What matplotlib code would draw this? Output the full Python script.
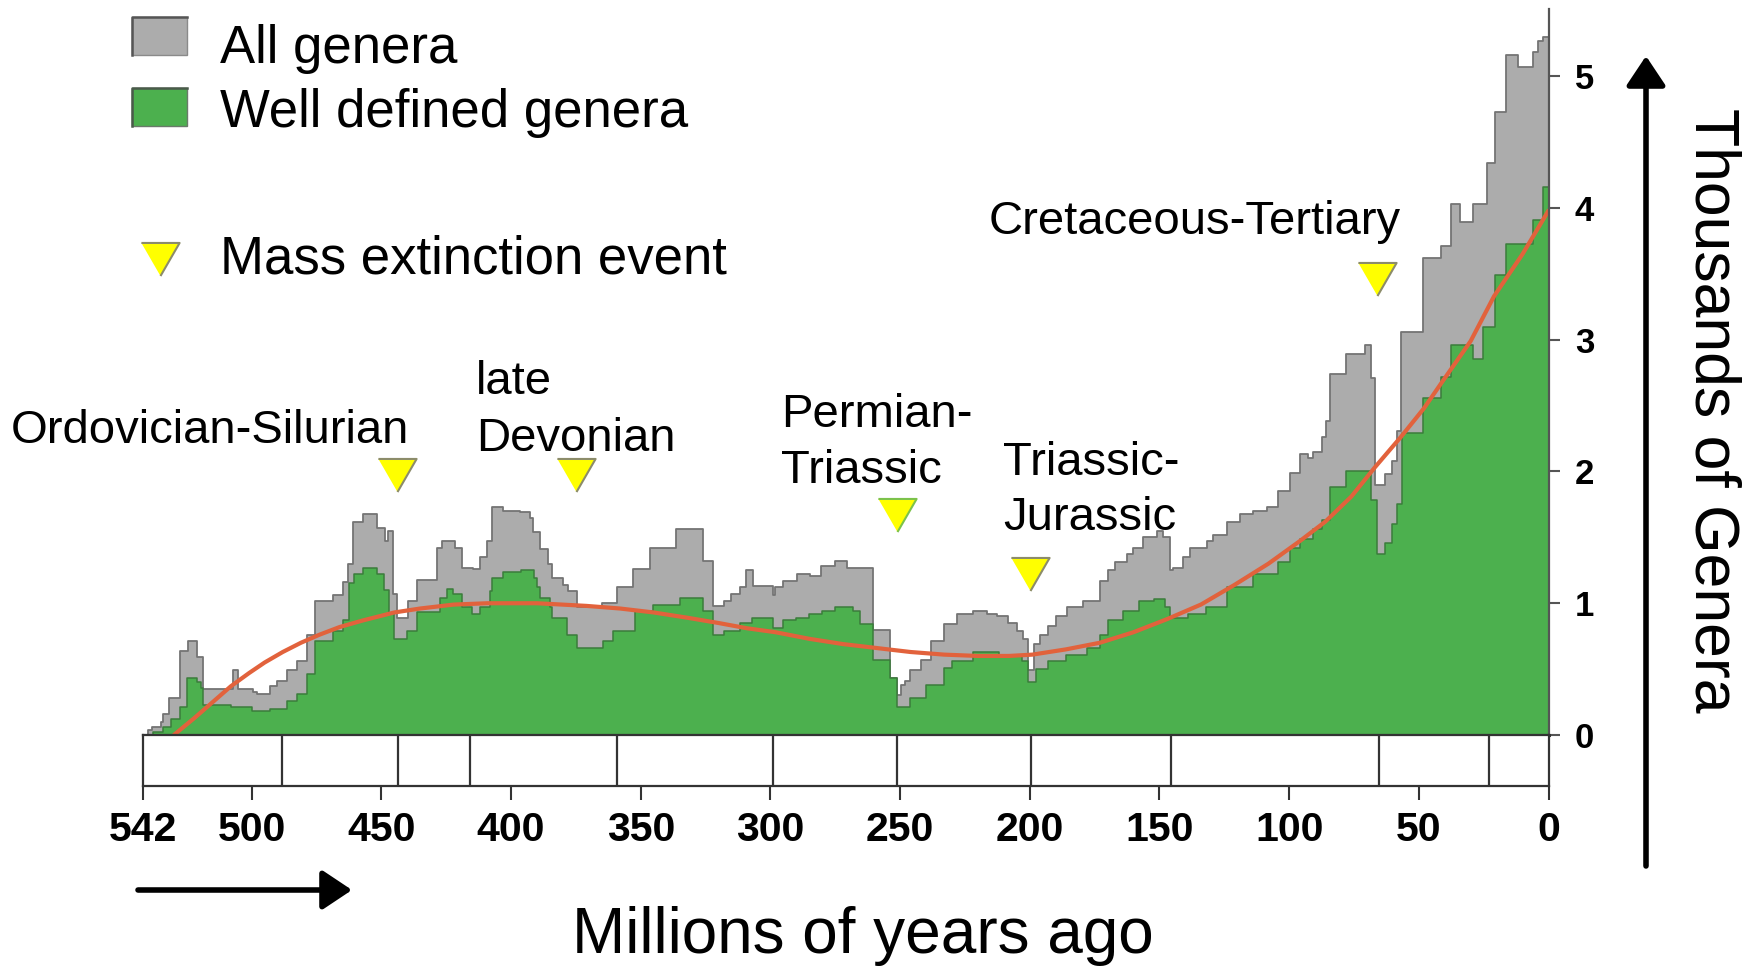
import matplotlib
matplotlib.use("Agg")
import matplotlib.pyplot as plt
from matplotlib.patches import Rectangle

plt.rcParams["font.family"] = ["Liberation Sans", "DejaVu Sans"]

# All genera (thousands), step values starting at each age (Ma)
GRAY_AGE = [542, 540, 538.5, 535, 534, 532, 527.6, 524.4, 521.2, 518.6, 507.1, 505.1, 499.4, 498,
            492.9, 490.3, 486.5, 482.6, 478.8, 475.6, 468.5, 464.7, 462.7, 460.8, 457, 451.8, 448.6,
            447.3, 445.4, 444.1, 439.6, 436.4, 428.7, 426.7, 421.6, 419, 414.5, 412, 409.4, 407.5,
            403, 396.6, 392.5, 391.4, 388.8, 385.6, 384.3, 379.8, 377.9, 374.7, 365.1, 359.3, 352.9,
            346.4, 336.2, 325.9, 322, 318, 315, 311.7, 309.4, 306.8, 298.9, 298.2, 295, 289.9, 284.7,
            280.3, 275.1, 270.6, 260.3, 253.9, 251.3, 249.5, 248, 246, 242, 238, 233, 228, 222,
            216.6, 212.8, 208.3, 205, 202.5, 200.5, 198.5, 196.1, 193, 189.7, 185.8, 179.4, 173,
            169.7, 167.2, 162.7, 160.1, 156.2, 151.1, 148.5, 146, 144.7, 140.8, 138.3, 131.8, 129.3,
            124.1, 119, 113.8, 108.7, 104.2, 99.7, 95.9, 92.7, 90.7, 87.5, 85.6, 84.1, 77.9, 70.8,
            68.3, 66.9, 63.1, 60.5, 58.6, 56.7, 48.3, 41.3, 37.4, 34.2, 29.1, 23.9, 20.7, 16.2, 11.7,
            5.9, 4.0, 2.1, 0]
GRAY_VAL = [0.00, 0.04, 0.06, 0.10, 0.16, 0.28, 0.64, 0.71, 0.59, 0.35, 0.49, 0.35, 0.33, 0.31,
            0.37, 0.41, 0.49, 0.56, 0.76, 1.02, 1.06, 1.16, 1.30, 1.62, 1.68, 1.57, 1.47,
            1.55, 1.07, 0.89, 1.02, 1.18, 1.42, 1.47, 1.42, 1.27, 1.26, 1.35, 1.47, 1.73,
            1.70, 1.69, 1.65, 1.54, 1.41, 1.30, 1.19, 1.14, 1.09, 0.97, 1.00, 1.12, 1.26,
            1.42, 1.56, 1.32, 0.98, 1.02, 1.07, 1.12, 1.25, 1.13, 1.06, 1.12, 1.17, 1.22, 1.21,
            1.28, 1.32, 1.27, 0.80, 0.43, 0.30, 0.38, 0.41, 0.49, 0.57, 0.71, 0.84, 0.92, 0.94,
            0.92, 0.90, 0.85, 0.79, 0.73, 0.49, 0.69, 0.76, 0.83, 0.90, 0.97, 1.02, 1.17,
            1.25, 1.31, 1.37, 1.42, 1.50, 1.55, 1.50, 1.25, 1.27, 1.35, 1.42, 1.47, 1.52,
            1.62, 1.68, 1.70, 1.73, 1.85, 1.99, 2.13, 2.10, 2.15, 2.26, 2.38, 2.74, 2.89, 2.96,
            2.71, 1.90, 1.98, 2.08, 2.31, 3.06, 3.62, 3.71, 4.03, 3.89, 4.03, 4.34, 4.73, 5.16, 5.07,
            5.18, 5.27, 5.30, 5.30]

# Well defined genera (thousands)
GREEN_AGE = [542, 538, 534, 531, 527.6, 525, 521.2, 519.5, 518.6, 508, 500, 493, 486.5, 482.6,
             478.8, 475.6, 468.5, 464.7, 462.5, 460.5, 457, 451.8, 449, 447, 445, 440, 436.4,
             427.4, 424.8, 422.3, 419, 415.2, 412, 408.1, 407.5, 403, 396, 391, 390, 388.8, 385,
             384.3, 378.6, 374.7, 364.4, 360.6, 352.2, 345.1, 334.9, 325.9, 322, 318, 311.7, 307,
             299, 295, 290, 285, 280, 275, 268, 265.5, 260.3, 253.9, 251.3, 246, 240, 233, 230,
             222, 212, 203, 200.5, 197.4, 193, 186, 178, 173, 169.7, 164, 158, 152, 148, 146,
             139, 132, 124, 114, 104.2, 99.7, 95.9, 90.7, 87.5, 84.1, 77.9, 68.3, 66.3, 63.1,
             60.5, 58.6, 56.6, 48.5, 41.3, 37.4, 29.1, 25.2, 20.7, 16.2, 5.9, 2.1, 0]
GREEN_VAL = [0.00, 0.02, 0.06, 0.12, 0.21, 0.43, 0.40, 0.36, 0.23, 0.21, 0.18, 0.20, 0.26, 0.31,
             0.46, 0.71, 0.79, 0.87, 1.15, 1.22, 1.27, 1.22, 1.10, 0.92, 0.73, 0.79, 0.93,
             1.04, 1.11, 1.07, 0.97, 0.92, 0.97, 1.09, 1.19, 1.24, 1.25, 1.19, 1.12, 1.04, 0.97,
             0.89, 0.76, 0.66, 0.71, 0.79, 0.94, 0.99, 1.04, 0.94, 0.76, 0.79, 0.85, 0.89,
             0.81, 0.87, 0.89, 0.92, 0.94, 0.97, 0.94, 0.84, 0.57, 0.43, 0.21, 0.28, 0.38, 0.51, 0.56,
             0.63, 0.60, 0.56, 0.40, 0.50, 0.56, 0.61, 0.66, 0.76, 0.87, 0.94, 1.02, 1.03, 0.97, 0.89,
             0.92, 0.97, 1.12, 1.22, 1.31, 1.42, 1.49, 1.56, 1.63, 1.88, 2.00, 1.78, 1.37, 1.46,
             1.60, 1.75, 2.29, 2.56, 2.72, 2.96, 2.85, 3.10, 3.49, 3.73, 3.91, 4.16, 4.16]

# fitted trend (thousands)
RED_AGE = [530, 522, 515, 508, 501, 495, 488, 481, 474, 466, 457, 445, 435, 422, 409, 390, 371,
           358, 345, 332, 320, 309, 298, 285, 272, 259, 246, 233, 220, 208, 199, 186, 173, 160,
           147, 134, 121, 108, 96, 86, 76, 67, 57, 48, 41, 30, 21, 10, 0]
RED_VAL = [0.00, 0.13, 0.25, 0.37, 0.47, 0.55, 0.63, 0.70, 0.76, 0.82, 0.87, 0.93, 0.96, 0.99,
           1.00, 1.00, 0.98, 0.96, 0.93, 0.89, 0.85, 0.81, 0.78, 0.73, 0.69, 0.66, 0.63, 0.61,
           0.60, 0.60, 0.61, 0.65, 0.70, 0.78, 0.88, 0.99, 1.14, 1.30, 1.47, 1.62, 1.81, 2.03,
           2.26, 2.48, 2.68, 2.99, 3.33, 3.65, 3.98]

EVENT_AGE = [444, 375, 251, 200, 66]
EVENT_VAL = [1.97, 1.97, 1.67, 1.22, 3.46]
EVENT_EDGE = ["#8c8c6a", "#8c8c6a", "#7cc24a", "#8c8c6a", "#8c8c6a"]

PERIOD_BOUNDS = [488.3, 443.7, 416, 359.2, 299, 251, 199.6, 145.5, 65.5, 23]
X_TICKS = [542, 500, 450, 400, 350, 300, 250, 200, 150, 100, 50, 0]
Y_TICKS = [0, 1, 2, 3, 4, 5]

GRAY = "#acacac"
GRAY_EDGE = "#747474"
GREEN = "#4cb04e"
GREEN_EDGE = "#3b7d3b"
RED = "#e2623c"
YELLOW = "#ffff00"
AXIS = "#333333"

TRI = [(-1, 0.866), (1, 0.866), (0, -0.866)]

W, H = 1762, 966
fig = plt.figure(figsize=(W / 100, H / 100), dpi=100)


def fx(px):
    return px / W


def fy(py):
    return 1 - py / H


# main plot
ax = fig.add_axes([fx(142.7), fy(735), fx(1548.5) - fx(142.7), fy(9) - fy(735)])
ax.set_xlim(542, 0)
ax.set_ylim(0, 5.51)
ax.fill_between(GRAY_AGE, GRAY_VAL, step="post", facecolor=GRAY, edgecolor=GRAY_EDGE, lw=1.3)
ax.fill_between(GREEN_AGE, GREEN_VAL, step="post", facecolor=GREEN, edgecolor=GREEN_EDGE, lw=1.1)
ax.plot(RED_AGE, RED_VAL, color=RED, lw=3.0, solid_capstyle="round", solid_joinstyle="round")
for age, val, edge in zip(EVENT_AGE, EVENT_VAL, EVENT_EDGE):
    ax.plot(age, val, marker=TRI, markersize=27.5, markerfacecolor=YELLOW,
            markeredgecolor=edge, markeredgewidth=1.5, linestyle="none", clip_on=False)

for side in ["left", "top"]:
    ax.spines[side].set_visible(False)
ax.spines["right"].set_color("#555555")
ax.spines["right"].set_linewidth(1.6)
ax.spines["bottom"].set_color(AXIS)
ax.spines["bottom"].set_linewidth(2.2)
ax.set_xticks([])
ax.yaxis.tick_right()
ax.set_yticks(Y_TICKS)
ax.set_yticklabels([str(t) for t in Y_TICKS], fontsize=25, fontweight="bold")
ax.tick_params(axis="y", direction="out", length=8, width=1.5, color="#555555", pad=11)

# geological time-scale box
tax = fig.add_axes([fx(142.7), fy(786), fx(1548.5) - fx(142.7), fy(735) - fy(786)])
tax.set_xlim(542, 0)
tax.set_ylim(0, 1)
tax.vlines(PERIOD_BOUNDS, 0, 1, color=AXIS, lw=1.6)
tax.set_yticks([])
tax.set_xticks(X_TICKS)
tax.set_xticklabels([str(t) for t in X_TICKS], fontsize=29.5, fontweight="bold")
tax.tick_params(axis="x", direction="out", length=10, width=1.5, color=AXIS, pad=8)
for side in tax.spines:
    tax.spines[side].set_color(AXIS)
    tax.spines[side].set_linewidth(1.6)

# overlay in pixel coordinates for legend, labels and arrows
ov = fig.add_axes([0, 0, 1, 1])
ov.set_xlim(0, W)
ov.set_ylim(H, 0)
ov.axis("off")
ov.patch.set_alpha(0)

ov.add_patch(Rectangle((132, 17), 55, 38, facecolor=GRAY, edgecolor="#8a8a8a", lw=1.0))
ov.plot([132, 132, 187], [55, 17, 17], color="#555555", lw=1.8)
ov.add_patch(Rectangle((132, 88), 55, 38, facecolor=GREEN, edgecolor="#6a7a6a", lw=1.0))
ov.plot([132, 132, 187], [126, 88, 88], color="#4a5a4a", lw=1.8)
ov.plot(160, 259, marker=TRI, markersize=27.5, markerfacecolor=YELLOW,
        markeredgecolor="#8c8c6a", markeredgewidth=1.5)

legend_fs = 38
ov.text(220, 63, "All genera", fontsize=legend_fs, va="baseline")
ov.text(220, 127, "Well defined genera", fontsize=legend_fs, va="baseline")
ov.text(220, 273, "Mass extinction event", fontsize=legend_fs, va="baseline")

ann_fs = 34
ov.text(11, 443, "Ordovician-Silurian", fontsize=ann_fs, va="baseline")
ov.text(476, 394, "late", fontsize=ann_fs, va="baseline")
ov.text(476, 451, "Devonian", fontsize=ann_fs, va="baseline")
ov.text(781, 427, "Permian-", fontsize=ann_fs, va="baseline")
ov.text(781, 483, "Triassic", fontsize=ann_fs, va="baseline")
ov.text(1003, 475, "Triassic-", fontsize=ann_fs, va="baseline")
ov.text(1003, 530, "Jurassic", fontsize=ann_fs, va="baseline")
ov.text(989, 234, "Cretaceous-Tertiary", fontsize=ann_fs, va="baseline")

ov.text(863, 953, "Millions of years ago", fontsize=46, ha="center", va="baseline")
ov.text(1712, 410, "Thousands of Genera", fontsize=45, rotation=-90, ha="center", va="center")

arrow_style = dict(arrowstyle="-|>,head_length=0.45,head_width=0.3", lw=4, color="black",
                   mutation_scale=40, shrinkA=0, shrinkB=0)
ov.annotate("", xy=(352, 890), xytext=(138, 890), arrowprops=arrow_style)
ov.annotate("", xy=(1646, 56), xytext=(1646, 866), arrowprops=arrow_style)

fig.savefig("out.png", dpi=100)
